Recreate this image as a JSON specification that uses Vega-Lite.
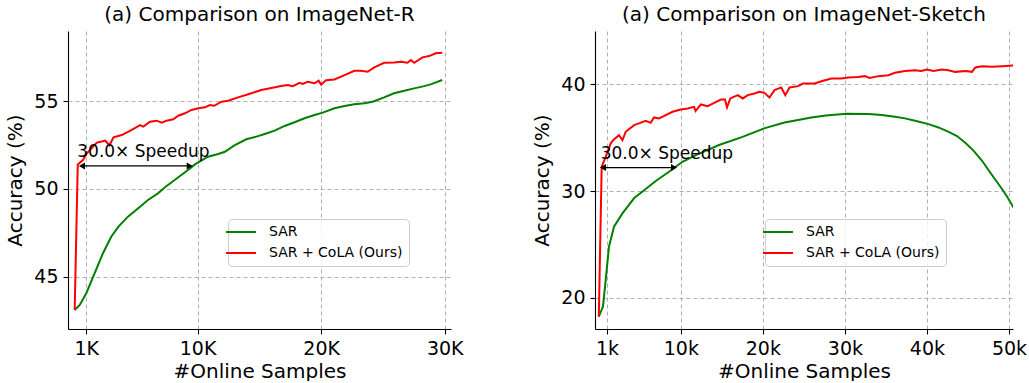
{
  "$schema": "https://vega.github.io/schema/vega-lite/v6.json",
  "background": "white",
  "padding": {"left": 5, "top": 5, "right": 5, "bottom": 0},
  "spacing": 68,
  "datasets": {
    "imr": [
      {"series": "SAR", "samples": 60, "acc": 43.1}, {"series": "SAR", "samples": 470, "acc": 43.39}, {"series": "SAR", "samples": 1000, "acc": 44.06}, {"series": "SAR", "samples": 1680, "acc": 45.2}, {"series": "SAR", "samples": 2350, "acc": 46.34}, {"series": "SAR", "samples": 3020, "acc": 47.28}, {"series": "SAR", "samples": 3600, "acc": 47.85}, {"series": "SAR", "samples": 4370, "acc": 48.42}, {"series": "SAR", "samples": 5350, "acc": 48.99}, {"series": "SAR", "samples": 5990, "acc": 49.37}, {"series": "SAR", "samples": 6800, "acc": 49.75}, {"series": "SAR", "samples": 7370, "acc": 50.1}, {"series": "SAR", "samples": 8150, "acc": 50.51}, {"series": "SAR", "samples": 9230, "acc": 51.08}, {"series": "SAR", "samples": 9790, "acc": 51.4}, {"series": "SAR", "samples": 10850, "acc": 51.84}, {"series": "SAR", "samples": 11670, "acc": 51.99}, {"series": "SAR", "samples": 12210, "acc": 52.12}, {"series": "SAR", "samples": 13020, "acc": 52.5}, {"series": "SAR", "samples": 13950, "acc": 52.83}, {"series": "SAR", "samples": 14760, "acc": 52.98}, {"series": "SAR", "samples": 15440, "acc": 53.13}, {"series": "SAR", "samples": 16240, "acc": 53.32}, {"series": "SAR", "samples": 17050, "acc": 53.59}, {"series": "SAR", "samples": 17850, "acc": 53.8}, {"series": "SAR", "samples": 18660, "acc": 54.03}, {"series": "SAR", "samples": 19470, "acc": 54.21}, {"series": "SAR", "samples": 20140, "acc": 54.35}, {"series": "SAR", "samples": 21080, "acc": 54.6}, {"series": "SAR", "samples": 21890, "acc": 54.73}, {"series": "SAR", "samples": 22690, "acc": 54.82}, {"series": "SAR", "samples": 23500, "acc": 54.88}, {"series": "SAR", "samples": 24170, "acc": 54.97}, {"series": "SAR", "samples": 25100, "acc": 55.22}, {"series": "SAR", "samples": 25900, "acc": 55.45}, {"series": "SAR", "samples": 26730, "acc": 55.6}, {"series": "SAR", "samples": 27530, "acc": 55.73}, {"series": "SAR", "samples": 28340, "acc": 55.86}, {"series": "SAR", "samples": 28870, "acc": 55.96}, {"series": "SAR", "samples": 29800, "acc": 56.21},
      {"series": "SAR + CoLA (Ours)", "samples": 60, "acc": 43.1}, {"series": "SAR + CoLA (Ours)", "samples": 310, "acc": 51.4}, {"series": "SAR + CoLA (Ours)", "samples": 730, "acc": 51.65}, {"series": "SAR + CoLA (Ours)", "samples": 1050, "acc": 52.03}, {"series": "SAR + CoLA (Ours)", "samples": 1850, "acc": 52.64}, {"series": "SAR + CoLA (Ours)", "samples": 2530, "acc": 52.75}, {"series": "SAR + CoLA (Ours)", "samples": 2880, "acc": 52.49}, {"series": "SAR + CoLA (Ours)", "samples": 3200, "acc": 52.94}, {"series": "SAR + CoLA (Ours)", "samples": 3870, "acc": 53.07}, {"series": "SAR + CoLA (Ours)", "samples": 4680, "acc": 53.36}, {"series": "SAR + CoLA (Ours)", "samples": 5350, "acc": 53.64}, {"series": "SAR + CoLA (Ours)", "samples": 5620, "acc": 53.55}, {"series": "SAR + CoLA (Ours)", "samples": 6160, "acc": 53.83}, {"series": "SAR + CoLA (Ours)", "samples": 6700, "acc": 53.89}, {"series": "SAR + CoLA (Ours)", "samples": 7100, "acc": 53.78}, {"series": "SAR + CoLA (Ours)", "samples": 7500, "acc": 53.89}, {"series": "SAR + CoLA (Ours)", "samples": 8040, "acc": 53.97}, {"series": "SAR + CoLA (Ours)", "samples": 8440, "acc": 54.17}, {"series": "SAR + CoLA (Ours)", "samples": 8980, "acc": 54.31}, {"series": "SAR + CoLA (Ours)", "samples": 9520, "acc": 54.5}, {"series": "SAR + CoLA (Ours)", "samples": 10060, "acc": 54.6}, {"series": "SAR + CoLA (Ours)", "samples": 10600, "acc": 54.65}, {"series": "SAR + CoLA (Ours)", "samples": 11000, "acc": 54.78}, {"series": "SAR + CoLA (Ours)", "samples": 11350, "acc": 54.74}, {"series": "SAR + CoLA (Ours)", "samples": 11940, "acc": 54.97}, {"series": "SAR + CoLA (Ours)", "samples": 12480, "acc": 55.03}, {"series": "SAR + CoLA (Ours)", "samples": 13280, "acc": 55.22}, {"series": "SAR + CoLA (Ours)", "samples": 14360, "acc": 55.45}, {"series": "SAR + CoLA (Ours)", "samples": 15160, "acc": 55.64}, {"series": "SAR + CoLA (Ours)", "samples": 15970, "acc": 55.75}, {"series": "SAR + CoLA (Ours)", "samples": 16770, "acc": 55.86}, {"series": "SAR + CoLA (Ours)", "samples": 17300, "acc": 55.92}, {"series": "SAR + CoLA (Ours)", "samples": 17700, "acc": 55.86}, {"series": "SAR + CoLA (Ours)", "samples": 18260, "acc": 56.05}, {"series": "SAR + CoLA (Ours)", "samples": 18500, "acc": 55.98}, {"series": "SAR + CoLA (Ours)", "samples": 18900, "acc": 56.11}, {"series": "SAR + CoLA (Ours)", "samples": 19470, "acc": 56.02}, {"series": "SAR + CoLA (Ours)", "samples": 19800, "acc": 56.17}, {"series": "SAR + CoLA (Ours)", "samples": 20000, "acc": 55.94}, {"series": "SAR + CoLA (Ours)", "samples": 20400, "acc": 56.2}, {"series": "SAR + CoLA (Ours)", "samples": 21080, "acc": 56.24}, {"series": "SAR + CoLA (Ours)", "samples": 21900, "acc": 56.49}, {"series": "SAR + CoLA (Ours)", "samples": 22690, "acc": 56.73}, {"series": "SAR + CoLA (Ours)", "samples": 23200, "acc": 56.73}, {"series": "SAR + CoLA (Ours)", "samples": 23770, "acc": 56.68}, {"series": "SAR + CoLA (Ours)", "samples": 24300, "acc": 56.93}, {"series": "SAR + CoLA (Ours)", "samples": 25100, "acc": 57.19}, {"series": "SAR + CoLA (Ours)", "samples": 25900, "acc": 57.21}, {"series": "SAR + CoLA (Ours)", "samples": 26450, "acc": 57.25}, {"series": "SAR + CoLA (Ours)", "samples": 26990, "acc": 57.19}, {"series": "SAR + CoLA (Ours)", "samples": 27260, "acc": 57.35}, {"series": "SAR + CoLA (Ours)", "samples": 27530, "acc": 57.19}, {"series": "SAR + CoLA (Ours)", "samples": 28200, "acc": 57.5}, {"series": "SAR + CoLA (Ours)", "samples": 28740, "acc": 57.57}, {"series": "SAR + CoLA (Ours)", "samples": 29270, "acc": 57.73}, {"series": "SAR + CoLA (Ours)", "samples": 29800, "acc": 57.76}
    ],
    "ims": [
      {"series": "SAR", "samples": 0, "acc": 18.23}, {"series": "SAR", "samples": 510, "acc": 19.17}, {"series": "SAR", "samples": 840, "acc": 21.67}, {"series": "SAR", "samples": 1240, "acc": 24.78}, {"series": "SAR", "samples": 1850, "acc": 26.66}, {"series": "SAR", "samples": 2880, "acc": 27.91}, {"series": "SAR", "samples": 4290, "acc": 29.32}, {"series": "SAR", "samples": 5720, "acc": 30.2}, {"series": "SAR", "samples": 6940, "acc": 30.94}, {"series": "SAR", "samples": 8560, "acc": 31.81}, {"series": "SAR", "samples": 10200, "acc": 32.74}, {"series": "SAR", "samples": 11820, "acc": 33.37}, {"series": "SAR", "samples": 14660, "acc": 34.31}, {"series": "SAR", "samples": 17520, "acc": 35.08}, {"series": "SAR", "samples": 20150, "acc": 35.87}, {"series": "SAR", "samples": 22640, "acc": 36.42}, {"series": "SAR", "samples": 24280, "acc": 36.65}, {"series": "SAR", "samples": 25900, "acc": 36.9}, {"series": "SAR", "samples": 27700, "acc": 37.09}, {"series": "SAR", "samples": 30200, "acc": 37.24}, {"series": "SAR", "samples": 32850, "acc": 37.22}, {"series": "SAR", "samples": 34480, "acc": 37.12}, {"series": "SAR", "samples": 36100, "acc": 36.96}, {"series": "SAR", "samples": 37330, "acc": 36.81}, {"series": "SAR", "samples": 38550, "acc": 36.58}, {"series": "SAR", "samples": 40190, "acc": 36.27}, {"series": "SAR", "samples": 41410, "acc": 35.96}, {"series": "SAR", "samples": 42640, "acc": 35.55}, {"series": "SAR", "samples": 43660, "acc": 35.15}, {"series": "SAR", "samples": 44670, "acc": 34.52}, {"series": "SAR", "samples": 45700, "acc": 33.77}, {"series": "SAR", "samples": 46720, "acc": 32.84}, {"series": "SAR", "samples": 47730, "acc": 31.71}, {"series": "SAR", "samples": 48960, "acc": 30.4}, {"series": "SAR", "samples": 49780, "acc": 29.47}, {"series": "SAR", "samples": 50600, "acc": 28.38},
      {"series": "SAR + CoLA (Ours)", "samples": 0, "acc": 18.23}, {"series": "SAR + CoLA (Ours)", "samples": 350, "acc": 32.28}, {"series": "SAR + CoLA (Ours)", "samples": 840, "acc": 33.2}, {"series": "SAR + CoLA (Ours)", "samples": 1450, "acc": 34.47}, {"series": "SAR + CoLA (Ours)", "samples": 1830, "acc": 34.84}, {"series": "SAR + CoLA (Ours)", "samples": 2460, "acc": 35.24}, {"series": "SAR + CoLA (Ours)", "samples": 2880, "acc": 34.78}, {"series": "SAR + CoLA (Ours)", "samples": 3280, "acc": 35.55}, {"series": "SAR + CoLA (Ours)", "samples": 4300, "acc": 36.18}, {"series": "SAR + CoLA (Ours)", "samples": 4900, "acc": 36.34}, {"series": "SAR + CoLA (Ours)", "samples": 5710, "acc": 36.58}, {"series": "SAR + CoLA (Ours)", "samples": 6320, "acc": 36.39}, {"series": "SAR + CoLA (Ours)", "samples": 6730, "acc": 36.9}, {"series": "SAR + CoLA (Ours)", "samples": 7340, "acc": 36.81}, {"series": "SAR + CoLA (Ours)", "samples": 8160, "acc": 37.12}, {"series": "SAR + CoLA (Ours)", "samples": 8980, "acc": 37.43}, {"series": "SAR + CoLA (Ours)", "samples": 10000, "acc": 37.65}, {"series": "SAR + CoLA (Ours)", "samples": 10820, "acc": 37.74}, {"series": "SAR + CoLA (Ours)", "samples": 11620, "acc": 37.89}, {"series": "SAR + CoLA (Ours)", "samples": 11800, "acc": 37.5}, {"series": "SAR + CoLA (Ours)", "samples": 12440, "acc": 38.12}, {"series": "SAR + CoLA (Ours)", "samples": 13260, "acc": 37.96}, {"series": "SAR + CoLA (Ours)", "samples": 14070, "acc": 38.27}, {"series": "SAR + CoLA (Ours)", "samples": 14890, "acc": 38.58}, {"series": "SAR + CoLA (Ours)", "samples": 15380, "acc": 38.58}, {"series": "SAR + CoLA (Ours)", "samples": 15630, "acc": 37.84}, {"series": "SAR + CoLA (Ours)", "samples": 16030, "acc": 38.68}, {"series": "SAR + CoLA (Ours)", "samples": 16940, "acc": 38.99}, {"series": "SAR + CoLA (Ours)", "samples": 17550, "acc": 38.68}, {"series": "SAR + CoLA (Ours)", "samples": 18160, "acc": 38.99}, {"series": "SAR + CoLA (Ours)", "samples": 18970, "acc": 39.15}, {"series": "SAR + CoLA (Ours)", "samples": 19580, "acc": 39.3}, {"series": "SAR + CoLA (Ours)", "samples": 20190, "acc": 39.2}, {"series": "SAR + CoLA (Ours)", "samples": 20800, "acc": 38.77}, {"series": "SAR + CoLA (Ours)", "samples": 21420, "acc": 39.46}, {"series": "SAR + CoLA (Ours)", "samples": 22240, "acc": 39.71}, {"series": "SAR + CoLA (Ours)", "samples": 22730, "acc": 38.99}, {"series": "SAR + CoLA (Ours)", "samples": 23250, "acc": 39.71}, {"series": "SAR + CoLA (Ours)", "samples": 24280, "acc": 39.83}, {"series": "SAR + CoLA (Ours)", "samples": 24890, "acc": 40.08}, {"series": "SAR + CoLA (Ours)", "samples": 26310, "acc": 40.08}, {"series": "SAR + CoLA (Ours)", "samples": 27340, "acc": 40.33}, {"series": "SAR + CoLA (Ours)", "samples": 28360, "acc": 40.55}, {"series": "SAR + CoLA (Ours)", "samples": 29580, "acc": 40.55}, {"series": "SAR + CoLA (Ours)", "samples": 30400, "acc": 40.65}, {"series": "SAR + CoLA (Ours)", "samples": 31620, "acc": 40.7}, {"series": "SAR + CoLA (Ours)", "samples": 32430, "acc": 40.77}, {"series": "SAR + CoLA (Ours)", "samples": 33000, "acc": 40.6}, {"series": "SAR + CoLA (Ours)", "samples": 34070, "acc": 40.77}, {"series": "SAR + CoLA (Ours)", "samples": 35300, "acc": 40.86}, {"series": "SAR + CoLA (Ours)", "samples": 36100, "acc": 41.08}, {"series": "SAR + CoLA (Ours)", "samples": 37330, "acc": 41.26}, {"series": "SAR + CoLA (Ours)", "samples": 38550, "acc": 41.33}, {"series": "SAR + CoLA (Ours)", "samples": 39300, "acc": 41.26}, {"series": "SAR + CoLA (Ours)", "samples": 39980, "acc": 41.39}, {"series": "SAR + CoLA (Ours)", "samples": 40800, "acc": 41.26}, {"series": "SAR + CoLA (Ours)", "samples": 41820, "acc": 41.39}, {"series": "SAR + CoLA (Ours)", "samples": 42600, "acc": 41.33}, {"series": "SAR + CoLA (Ours)", "samples": 43450, "acc": 41.17}, {"series": "SAR + CoLA (Ours)", "samples": 44700, "acc": 41.26}, {"series": "SAR + CoLA (Ours)", "samples": 45490, "acc": 41.17}, {"series": "SAR + CoLA (Ours)", "samples": 45900, "acc": 41.58}, {"series": "SAR + CoLA (Ours)", "samples": 46720, "acc": 41.7}, {"series": "SAR + CoLA (Ours)", "samples": 47900, "acc": 41.64}, {"series": "SAR + CoLA (Ours)", "samples": 49160, "acc": 41.7}, {"series": "SAR + CoLA (Ours)", "samples": 50500, "acc": 41.77}
    ],
    "arrowR": [{"x": 650, "x2": 9370, "y": 51.31}],
    "headsR": [{"x": 650, "y": 51.31, "shape": "triangle-left", "dx": 3.5}, {"x": 9370, "y": 51.31, "shape": "triangle-right", "dx": -3.5}],
    "labelR": [{"x": 270, "y": 51.8, "text": "30.0× Speedup"}],
    "arrowS": [{"x": 510, "x2": 9170, "y": 32.2}],
    "headsS": [{"x": 510, "y": 32.2, "shape": "triangle-left", "dx": 3.5}, {"x": 9170, "y": 32.2, "shape": "triangle-right", "dx": -3.5}],
    "labelS": [{"x": 230, "y": 32.97, "text": "30.0× Speedup"}]
  },
  "hconcat": [
    {
      "width": 383,
      "height": 298,
      "title": {"text": "(a) Comparison on ImageNet-R"},
      "layer": [
        {
          "data": {"name": "imr"},
          "mark": {"type": "line", "strokeWidth": 2, "clip": true},
          "encoding": {
            "x": {"field": "samples", "type": "quantitative", "scale": {"domain": [-480, 30510], "nice": false, "zero": false},
                  "axis": {"values": [1000, 10000, 20000, 30000], "labelExpr": "datum.value / 1000 + 'K'", "title": "#Online Samples"}},
            "y": {"field": "acc", "type": "quantitative", "scale": {"domain": [42.02, 59.0], "nice": false, "zero": false},
                  "axis": {"values": [45, 50, 55], "title": "Accuracy (%)"}},
            "color": {"field": "series", "type": "nominal",
                      "scale": {"domain": ["SAR", "SAR + CoLA (Ours)"], "range": ["#008000", "#ff0000"]},
                      "legend": {"title": null, "legendX": 160, "legendY": 188}}
          }
        },
        {
          "data": {"name": "arrowR"},
          "mark": {"type": "rule", "color": "black", "strokeWidth": 1.3},
          "encoding": {"x": {"field": "x", "type": "quantitative"}, "x2": {"field": "x2"}, "y": {"field": "y", "type": "quantitative"}}
        },
        {
          "data": {"name": "headsR"},
          "mark": {"type": "point", "filled": true, "color": "black", "opacity": 1, "size": 50},
          "encoding": {"x": {"field": "x", "type": "quantitative"}, "y": {"field": "y", "type": "quantitative"},
                       "xOffset": {"field": "dx", "type": "quantitative", "scale": null},
                       "shape": {"field": "shape", "type": "nominal", "scale": null, "legend": null}}
        },
        {
          "data": {"name": "labelR"},
          "mark": {"type": "text", "align": "left", "baseline": "alphabetic", "font": "DejaVu Sans", "fontSize": 17, "color": "black"},
          "encoding": {"x": {"field": "x", "type": "quantitative"}, "y": {"field": "y", "type": "quantitative"}, "text": {"field": "text"}}
        }
      ]
    },
    {
      "width": 418,
      "height": 298,
      "title": {"text": "(a) Comparison on ImageNet-Sketch"},
      "layer": [
        {
          "data": {"name": "ims"},
          "mark": {"type": "line", "strokeWidth": 2, "clip": true},
          "encoding": {
            "x": {"field": "samples", "type": "quantitative", "scale": {"domain": [-464, 50490], "nice": false, "zero": false},
                  "axis": {"values": [1000, 10000, 20000, 30000, 40000, 50000], "labelExpr": "datum.value / 1000 + 'k'", "title": "#Online Samples"}},
            "y": {"field": "acc", "type": "quantitative", "scale": {"domain": [17.07, 45.0], "nice": false, "zero": false},
                  "axis": {"values": [20, 30, 40], "title": "Accuracy (%)"}},
            "color": {"field": "series", "type": "nominal",
                      "scale": {"domain": ["SAR", "SAR + CoLA (Ours)"], "range": ["#008000", "#ff0000"]},
                      "legend": {"title": null, "legendX": 170, "legendY": 188}}
          }
        },
        {
          "data": {"name": "arrowS"},
          "mark": {"type": "rule", "color": "black", "strokeWidth": 1.3},
          "encoding": {"x": {"field": "x", "type": "quantitative"}, "x2": {"field": "x2"}, "y": {"field": "y", "type": "quantitative"}}
        },
        {
          "data": {"name": "headsS"},
          "mark": {"type": "point", "filled": true, "color": "black", "opacity": 1, "size": 50},
          "encoding": {"x": {"field": "x", "type": "quantitative"}, "y": {"field": "y", "type": "quantitative"},
                       "xOffset": {"field": "dx", "type": "quantitative", "scale": null},
                       "shape": {"field": "shape", "type": "nominal", "scale": null, "legend": null}}
        },
        {
          "data": {"name": "labelS"},
          "mark": {"type": "text", "align": "left", "baseline": "alphabetic", "font": "DejaVu Sans", "fontSize": 17, "color": "black"},
          "encoding": {"x": {"field": "x", "type": "quantitative"}, "y": {"field": "y", "type": "quantitative"}, "text": {"field": "text"}}
        }
      ]
    }
  ],
  "resolve": {"scale": {"color": "independent", "x": "independent", "y": "independent", "shape": "independent"}, "legend": {"color": "independent"}},
  "config": {
    "font": "DejaVu Sans",
    "view": {"stroke": null},
    "title": {"font": "DejaVu Sans", "fontSize": 20, "fontWeight": "normal", "color": "black", "anchor": "middle", "offset": 6},
    "axis": {
      "domainColor": "black", "domainWidth": 1.1, "tickColor": "black", "tickWidth": 1.1, "tickSize": 5,
      "labelFont": "DejaVu Sans", "labelFontSize": 19, "labelColor": "black", "labelPadding": 5, "labelFlush": false,
      "titleFont": "DejaVu Sans", "titleFontSize": 20, "titleFontWeight": "normal", "titleColor": "black",
      "gridColor": "#b0b0b0", "gridDash": [4, 3], "gridWidth": 1
    },
    "axisY": {"titlePadding": 8},
    "axisX": {"titlePadding": 3},
    "legend": {
      "orient": "none", "labelFont": "DejaVu Sans", "labelFontSize": 14, "labelColor": "black",
      "symbolType": "M-3,0H3", "symbolSize": 100, "symbolStrokeWidth": 2, "labelOffset": 21, "rowPadding": 7,
      "strokeColor": "#cccccc", "fillColor": "rgba(255,255,255,0.8)", "padding": 6, "cornerRadius": 4
    }
  }
}
